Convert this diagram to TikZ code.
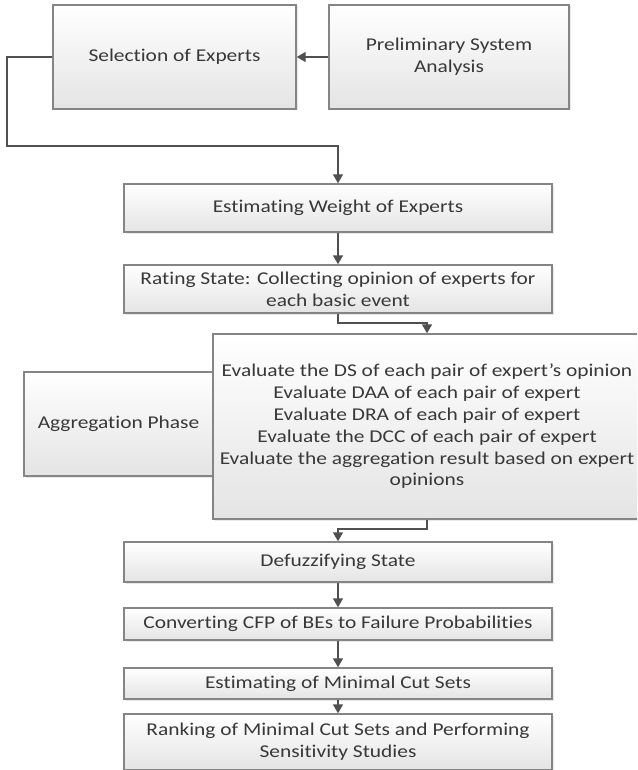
\documentclass[tikz,border=0pt]{standalone}
\usepackage{fontspec}
\setmainfont{Carlito}[FakeStretch=1.19, Ligatures=NoCommon]
\usetikzlibrary{arrows.meta,shadows}
\definecolor{boxborder}{HTML}{858585}
\definecolor{boxfill}{HTML}{E4E4E4}
\definecolor{linecol}{HTML}{505050}
\definecolor{textcol}{HTML}{383838}
\tikzset{
  box/.style={draw=boxborder, line width=1.4pt, top color=white, bottom color=boxfill,
    align=center, inner sep=1pt, text=textcol,
    font=\fontsize{18}{21.8}\selectfont,
    drop shadow={opacity=0.18, shadow xshift=1.5pt, shadow yshift=-1.5pt}},
  conn/.style={draw=linecol, line width=1.4pt},
  arr/.style={conn, -{Triangle[length=9pt,width=10pt]}}
}
\begin{document}
\begin{tikzpicture}[x=1pt,y=-1pt]
\useasboundingbox (0,0) rectangle (637,770);
\clip (0,0) rectangle (637,770);
\fill[white] (0,0) rectangle (637,770);
% top row
\node[box, minimum width=243pt, minimum height=104pt] (sel) at (174.5,57) {Selection of Experts};
\node[box, minimum width=240pt, minimum height=104pt] (pre) at (449,57) {Preliminary System\\Analysis};
% main column
\node[box, minimum width=428pt, minimum height=48pt] (estw) at (338,208) {Estimating Weight of Experts};
\node[box, minimum width=428pt, minimum height=48pt] (rate) at (338,289) {Rating State: Collecting opinion of experts for\\each basic event};
\node[box, minimum width=189pt, minimum height=104pt] (agg) at (118.5,424) {Aggregation Phase};
\node[box, minimum width=428pt, minimum height=185pt] (big) at (427,426.5) {Evaluate the DS of each pair of expert’s opinion\\Evaluate DAA of each pair of expert\\Evaluate DRA of each pair of expert\\Evaluate the DCC of each pair of expert\\Evaluate the aggregation result based on expert\\opinions};
\node[box, minimum width=428pt, minimum height=40pt] (defz) at (338,562) {Defuzzifying State};
\node[box, minimum width=428pt, minimum height=32pt] (conv) at (338,624) {Converting CFP of BEs to Failure Probabilities};
\node[box, minimum width=428pt, minimum height=31pt] (emcs) at (338,683.5) {Estimating of Minimal Cut Sets};
\node[box, minimum width=428pt, minimum height=56pt] (rank) at (338,742) {Ranking of Minimal Cut Sets and Performing\\Sensitivity Studies};
% connectors
\coordinate (c1) at (7,146);
\coordinate (c2) at (338,323);
\coordinate (c3) at (427,529);
\draw[arr] (pre.west) -- (sel.east);
\draw[arr] (sel.west) -| (c1) -| (estw.north);
\draw[arr] (estw.south) -- (rate.north);
\draw[arr] (rate.south) -- (c2) -| (big.north);
\draw[arr] (big.south) -- (c3) -| (defz.north);
\draw[arr] (defz.south) -- (conv.north);
\draw[arr] (conv.south) -- (emcs.north);
\draw[arr] (emcs.south) -- (rank.north);
\end{tikzpicture}
\end{document}
